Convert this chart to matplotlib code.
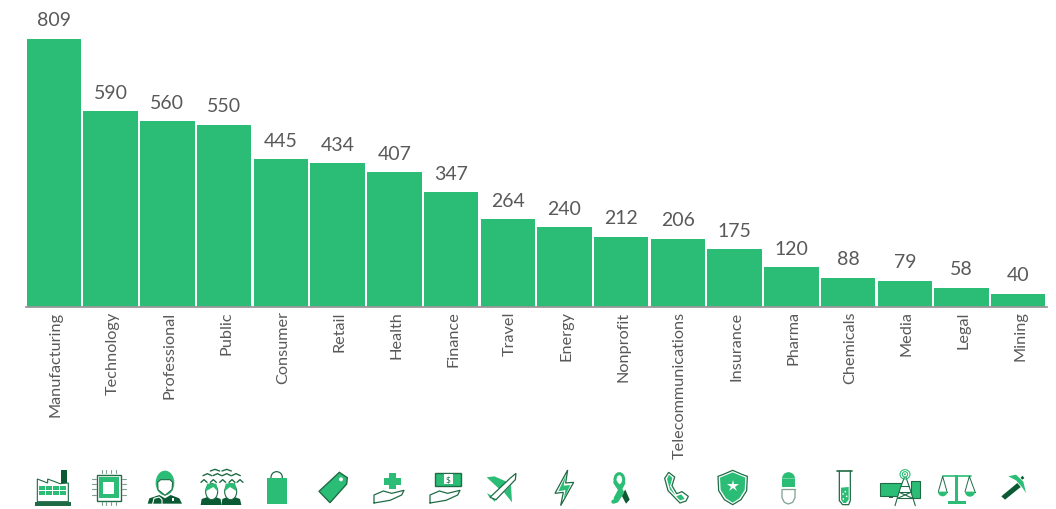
import matplotlib
matplotlib.use('Agg')
import matplotlib.pyplot as plt
from matplotlib.patches import Polygon, Ellipse, Wedge
from matplotlib.transforms import ScaledTranslation

industries = ['Manufacturing', 'Technology', 'Professional', 'Public', 'Consumer', 'Retail',
              'Health', 'Finance', 'Travel', 'Energy', 'Nonprofit', 'Telecommunications',
              'Insurance', 'Pharma', 'Chemicals', 'Media', 'Legal', 'Mining']
counts = [809, 590, 560, 550, 445, 434, 407, 347, 264, 240, 212, 206, 175, 120, 88, 79, 58, 40]

GREEN = '#2BBD75'
DARK = '#0B5A33'
LINE = '#1F6B46'
TEXT = '#595959'

plt.rcParams['font.family'] = ['Lato', 'DejaVu Sans']

W, H = 1056, 510
fig = plt.figure(figsize=(W / 100, H / 100), dpi=100)
ax = fig.add_axes([25.6 / W, 1 - 308 / H, 1021 / W, 308 / H])
bars = ax.bar(range(len(counts)), counts, width=0.96, color=GREEN)
ax.bar_label(bars, padding=7.5, fontsize=14, color=TEXT)
ax.set_xlim(-0.5, 17.5)
ax.set_ylim(0, 929)
ax.set_yticks([])
ax.set_xticks(range(len(industries)))
ax.set_xticklabels(industries, rotation=90, fontsize=11.7, color=TEXT)
ax.tick_params(axis='x', length=0, pad=2.5)
# labels sit a little right of the bar centres
shift = ScaledTranslation(2 / 100, 0, fig.dpi_scale_trans)
for lab in ax.get_xticklabels():
    lab.set_transform(lab.get_transform() + shift)
for s in ['top', 'left', 'right']:
    ax.spines[s].set_visible(False)
ax.spines['bottom'].set_color('#999999')
ax.spines['bottom'].set_linewidth(1.3)

# overlay in pixel coordinates for the icon row
ic = fig.add_axes([0, 0, 1, 1])
ic.set_xlim(0, W)
ic.set_ylim(H, 0)
ic.axis('off')
ic.patch.set_alpha(0)

ox = 0


def P(pts):
    return [(ox + x / 3, 460 + y / 3) for x, y in pts]


def poly(pts, fc='none', ec='none', lw=0.8, z=2):
    ic.add_patch(Polygon(P(pts), closed=True, fc=fc, ec=ec, lw=lw, zorder=z))


def rect(x0, y0, x1, y1, fc='none', ec='none', lw=0.8, z=2):
    poly([(x0, y0), (x1, y0), (x1, y1), (x0, y1)], fc, ec, lw, z)


def ell(cx, cy, w, h, fc='none', ec='none', lw=0.8, z=2):
    (x, y), = P([(cx, cy)])
    ic.add_patch(Ellipse((x, y), w / 3, h / 3, fc=fc, ec=ec, lw=lw, zorder=z))


def half(cx, cy, r, t0, t1, fc=GREEN, z=2):
    # y axis is flipped here, so 180-360 is the upper half on screen
    (x, y), = P([(cx, cy)])
    ic.add_patch(Wedge((x, y), r / 3, t0, t1, fc=fc, ec='none', zorder=z))


def line(pts, c=LINE, lw=0.8, z=2):
    q = P(pts)
    ic.plot([a for a, b in q], [b for a, b in q], color=c, lw=lw, zorder=z, solid_capstyle='round')


def hand(dx, dy):
    line([(1122 + dx, 132 + dy), (1122 + dx, 108 + dy), (1150 + dx, 96 + dy), (1175 + dx, 103 + dy),
          (1212 + dx, 94 + dy), (1205 + dx, 108 + dy), (1170 + dx, 124 + dy), (1122 + dx, 132 + dy)], lw=0.9)


# factory
rect(105, 129, 213, 140, fc=LINE)
rect(184, 33, 202, 72, fc=DARK)
poly([(112, 128), (112, 60), (143, 72), (143, 60), (180, 74), (205, 72), (205, 128)], fc='white', ec=LINE)
for y0 in (81, 95):
    for x0 in (118, 139, 160, 181):
        rect(x0, y0, x0 + 18, y0 + 12, fc=GREEN)

# chip
rect(290, 47, 362, 125, fc='white', ec=LINE, lw=1)
rect(296, 54, 356, 118, fc=GREEN)
rect(310, 70, 342, 104, fc='white')
for x in (305, 319, 333, 347):
    line([(x, 33), (x, 43)], c='#7F9F8F')
    line([(x, 128), (x, 139)], c='#7F9F8F')
for y in (60, 75, 90, 108):
    line([(275, y), (287, y)], c='#7F9F8F')
    line([(366, y), (379, y)], c='#7F9F8F')

# doctor
poly([(443, 134), (448, 118), (478, 108), (495, 118), (512, 108), (538, 118), (546, 134)], fc=DARK)
ell(495, 72, 56, 74, fc=GREEN)
poly([(473, 70), (482, 62), (510, 62), (518, 70), (516, 92), (495, 109), (474, 92)], fc='white', ec=LINE)
line([(458, 134), (462, 118), (478, 114), (486, 122), (486, 134)], c='white')
rect(516, 118, 523, 125, fc='white')

# crowd
for x in (645, 680):
    line([(x - 14, 36), (x, 31), (x + 14, 36)], lw=1)
for x in (622, 652, 680, 708):
    line([(x - 13, 50), (x, 44), (x + 13, 50)], lw=1)
for x in (612, 640, 668, 696, 720):
    line([(x - 9, 70), (x, 62), (x + 9, 70)], c=LINE, lw=1)
poly([(602, 138), (605, 120), (635, 110), (662, 120), (664, 138)], fc=DARK)
poly([(664, 138), (667, 120), (692, 110), (720, 120), (724, 138)], fc=DARK)
ell(635, 98, 36, 48, fc='white', ec=LINE)
ell(692, 98, 36, 48, fc='white', ec=LINE)
poly([(617, 97), (621, 74), (649, 74), (653, 97), (640, 84)], fc=GREEN)
poly([(674, 97), (677, 74), (705, 72), (710, 97), (690, 84)], fc=GREEN)

# bag
rect(800, 57, 860, 134, fc=GREEN)
ell(830, 55, 34, 34, ec=LINE, lw=0.9, z=1)

# tag
poly([(957, 97), (1018, 40), (1042, 56), (1040, 75), (990, 131)], fc=GREEN, ec=LINE, lw=1)
ell(1023, 61, 12, 12, fc='white')

# health hand
rect(1167, 42, 1188, 90, fc=GREEN)
rect(1151, 58, 1204, 77, fc=GREEN)
hand(0, 0)

# money hand
rect(1306, 42, 1384, 80, fc=GREEN, ec=LINE, lw=1)
rect(1331, 46, 1359, 76, fc='white')
ic.text(*P([(1345, 61)])[0], '$', fontsize=6, color=LINE, ha='center', va='center')
hand(168, 0)

# plane
poly([(1460, 55), (1483, 52), (1520, 68), (1498, 90)], fc=GREEN)
poly([(1512, 100), (1533, 78), (1536, 130)], fc=GREEN)
poly([(1461, 102), (1474, 110), (1468, 115)], fc=GREEN)
poly([(1474, 118), (1490, 116), (1484, 128)], fc=GREEN)
poly([(1470, 115), (1530, 58), (1548, 43), (1546, 62), (1488, 122)], fc='white', ec=LINE, lw=0.9, z=3)

ox = 526
# bolt
poly([(125, 33), (87, 103), (112, 100), (104, 140), (143, 70), (119, 72)], fc='white', ec=LINE, lw=0.9)
poly([(120, 48), (97, 97), (118, 93), (113, 122), (133, 78), (113, 80)], fc=GREEN)

# ribbon
poly([(286, 108), (298, 92), (311, 122), (300, 134)], fc=DARK)
ell(280, 62, 26, 36, ec=GREEN, lw=2.2)
line([(268, 70), (288, 100), (272, 125), (262, 128)], c=GREEN, lw=3)
line([(293, 72), (268, 118)], c=GREEN, lw=2.5)

# phone
poly([(428, 40), (416, 58), (426, 95), (462, 132), (480, 126), (487, 112), (468, 98), (452, 104), (438, 80),
      (446, 54)], fc='white', ec=LINE, lw=0.9)
poly([(429, 47), (423, 60), (432, 92), (462, 124), (476, 120), (466, 106), (450, 112), (432, 82), (439, 57)], fc=GREEN)

# shield
poly([(576, 52), (590, 47), (620, 34), (650, 47), (664, 52), (662, 95), (645, 122), (620, 137), (595, 122), (578, 95)],
     fc='white', ec=LINE, lw=0.9)
poly([(582, 56), (620, 40), (658, 56), (656, 93), (640, 118), (620, 131), (600, 118), (584, 93)], fc=GREEN)
ic.plot(*P([(620, 80)])[0], marker='*', ms=9, color='white', mew=0, zorder=3)

# pill
rect(768, 59, 807, 85, fc=GREEN)
half(787.5, 59, 19.5, 180, 360, fc=GREEN)
line([(768, 92), (768, 116), (775, 130), (787, 135), (800, 130), (807, 116), (807, 92)], c='#7F9F8F', lw=0.9)
line([(768, 89), (807, 89)], c='#7F9F8F', lw=0.9)

# test tube
line([(933, 35), (978, 35)], c=LINE, lw=1.2)
line([(940, 36), (940, 125), (950, 137), (968, 137), (973, 125), (973, 36)], c=LINE, lw=0.9)
poly([(945, 86), (968, 84), (968, 122), (960, 132), (952, 132), (945, 122)], fc=GREEN)
for x, y in ((958, 98), (951, 105), (962, 112), (952, 120)):
    ell(x, y, 5, 5, fc='white', z=3)

# media tower
rect(1063, 73, 1128, 112, fc=GREEN, ec=LINE)
rect(1155, 65, 1183, 118, fc=GREEN, ec=LINE)
rect(1090, 112, 1102, 118, fc=LINE)
poly([(1135, 55), (1122, 90), (1107, 140), (1168, 140), (1152, 90), (1140, 55)], fc='white')
line([(1135, 55), (1122, 90), (1107, 140)])
line([(1140, 55), (1152, 90), (1168, 140)])
line([(1126, 82), (1148, 82)])
line([(1120, 100), (1154, 100)])
line([(1115, 118), (1160, 118)])
line([(1120, 100), (1160, 118)])
line([(1154, 100), (1115, 118)])
ell(1137, 46, 30, 28, ec=GREEN)
ell(1137, 46, 16, 16, ec=GREEN)
ell(1137, 46, 6, 6, fc=GREEN)

# scales
rect(1288, 48, 1297, 128, fc=GREEN)
rect(1266, 127, 1320, 134, fc=GREEN)
line([(1250, 52), (1335, 52)], c=GREEN, lw=1.2)
line([(1237, 98), (1250, 52), (1263, 98)], c=LINE, lw=0.7)
line([(1317, 98), (1330, 52), (1347, 98)], c=LINE, lw=0.7)
line([(1236, 98), (1264, 98)], lw=0.8)
line([(1317, 98), (1347, 98)], lw=0.8)
half(1250, 98, 14, 0, 180, fc=GREEN, z=3)
half(1332, 98, 15, 0, 180, fc=GREEN, z=3)

# pickaxe
poly([(1426, 112), (1474, 72), (1484, 84), (1437, 122)], fc=DARK)
poly([(1447, 52), (1470, 47), (1492, 68), (1500, 102), (1487, 83), (1470, 64)], fc=GREEN)
poly([(1484, 56), (1490, 50), (1495, 58), (1488, 62)], fc=DARK)

fig.savefig('out.png', dpi=100)
